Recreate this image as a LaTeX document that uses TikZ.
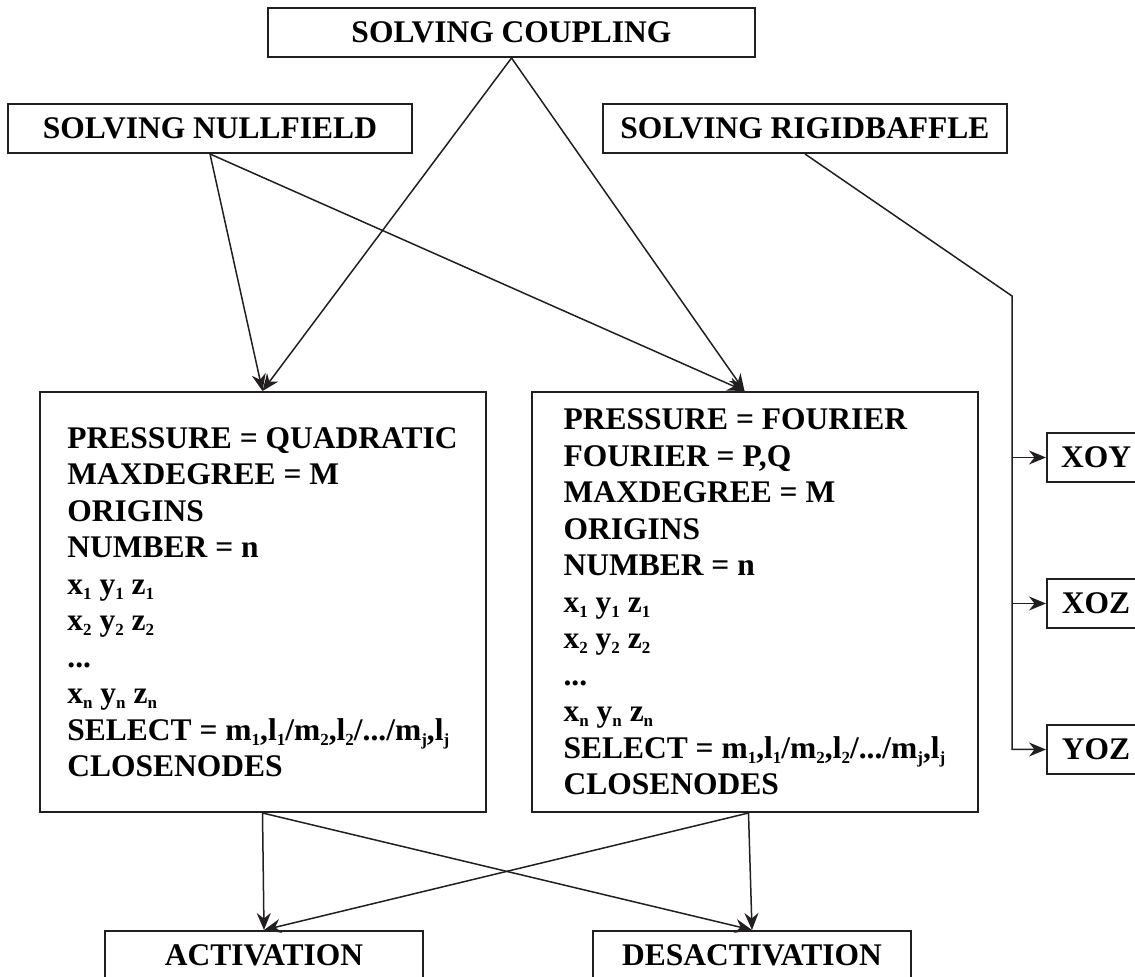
\documentclass[tikz,border=0pt]{standalone}
\usepackage{fontspec}
\setmainfont{Liberation Serif}
\usetikzlibrary{arrows.meta,positioning}
\definecolor{Ink}{HTML}{231F20}
\newcommand\lo[1]{\raisebox{-2.5pt}{\fontsize{8.5}{8.5}\selectfont #1}}

\begin{document}
\begin{tikzpicture}[
    x=0.5pt, y=-0.5pt,
    font=\fontsize{15.75}{18.25}\selectfont\bfseries,
    head/.style={draw=Ink, line width=1pt, minimum height=24.5pt, inner sep=0pt, text height=10.4pt, text depth=0pt},
    card/.style={draw=Ink, line width=1pt, minimum width=223pt, minimum height=210pt, align=left, inner sep=0pt},
    plane/.style={head, minimum width=49pt},
    arrow/.style={-{Stealth[length=8.5pt, width=7pt]}, line width=0.75pt, color=Ink}
  ]
    \useasboundingbox (0,0) rectangle (1135,977);

    \node[head, minimum width=243.5pt] (coupling) at (511.5,32.5) {SOLVING COUPLING};
    \node[head, minimum width=202pt] (nullfield) at (210,128.5) {SOLVING NULLFIELD};
    \node[head, minimum width=202pt] (rigid) at (805,128.5) {SOLVING RIGIDBAFFLE};

    \node[card] (quad) at (262.5,602) {PRESSURE = QUADRATIC\\MAXDEGREE = M\\ORIGINS\\NUMBER = n\\
      x\lo{1} y\lo{1} z\lo{1}\\x\lo{2} y\lo{2} z\lo{2}\\...\\x\lo{n} y\lo{n} z\lo{n}\\
      SELECT = m\lo{1},l\lo{1}/m\lo{2},l\lo{2}/.../m\lo{j},l\lo{j}\\CLOSENODES};
    \node[card] (four) at (754.5,602) {PRESSURE = FOURIER\\FOURIER = P,Q\\MAXDEGREE = M\\ORIGINS\\NUMBER = n\\
      x\lo{1} y\lo{1} z\lo{1}\\x\lo{2} y\lo{2} z\lo{2}\\...\\x\lo{n} y\lo{n} z\lo{n}\\
      SELECT = m\lo{1},l\lo{1}/m\lo{2},l\lo{2}/.../m\lo{j},l\lo{j}\\CLOSENODES};

    \node[plane] (xoy) at (1096,457.5) {XOY};
    \node[plane, below=47.5pt of xoy] (xoz) {XOZ};
    \node[plane, below=47.5pt of xoz] (yoz) {YOZ};

    \node[head, minimum width=159pt] (act) at (264,955.5) {ACTIVATION};
    \node[head, minimum width=159pt, right=84pt of act] (desact) {DESACTIVATION};

    \coordinate (bend) at (1012,296);

    \draw[arrow] (nullfield.south) -- (quad.north);
    \draw[arrow] (coupling.south) -- (quad.north);
    \draw[arrow] (nullfield.south) -- ([xshift=-5pt]four.north);
    \draw[arrow] (coupling.south) -- ([xshift=-5pt]four.north);

    \draw[arrow] (rigid.south) -- (bend) |- (yoz.west);
    \draw[arrow] (bend |- xoy.west) -- (xoy.west);
    \draw[arrow] (bend |- xoz.west) -- (xoz.west);

    \draw[arrow] (quad.south) -- (act.north);
    \draw[arrow] (quad.south) -- (desact.north);
    \draw[arrow] ([xshift=-3pt]four.south) -- (act.north);
    \draw[arrow] ([xshift=-3pt]four.south) -- (desact.north);
  \end{tikzpicture}
\end{document}
